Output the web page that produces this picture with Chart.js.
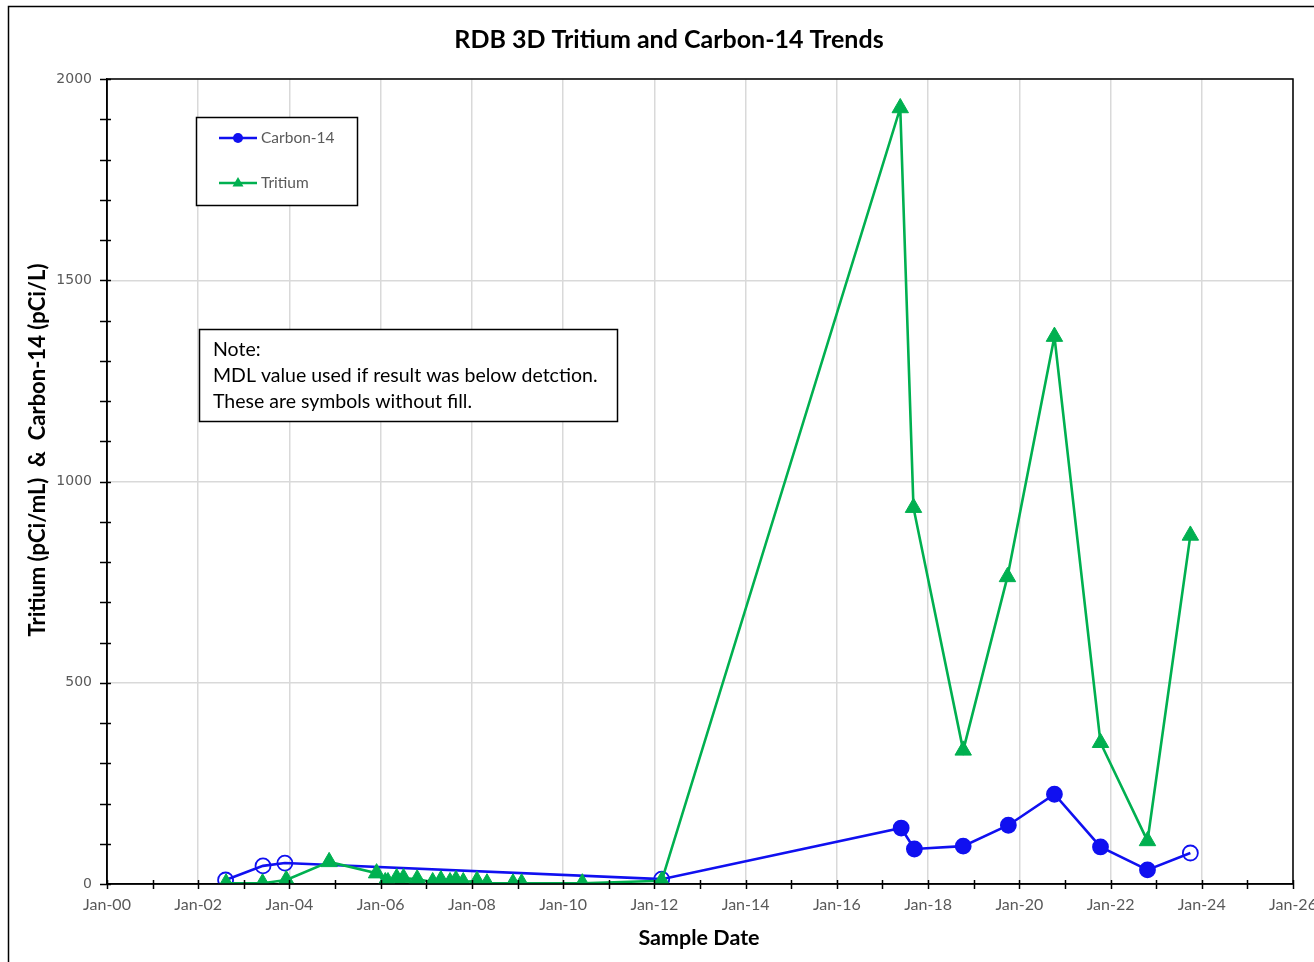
<!DOCTYPE html>
<html>
<head>
<meta charset="utf-8">
<title>RDB 3D Tritium and Carbon-14 Trends</title>
<script src="https://cdn.jsdelivr.net/npm/chart.js@4.4.1/dist/chart.umd.min.js"></script>
<style>
  html, body { margin: 0; padding: 0; background: #fff; }
  canvas { display: block; }
</style>
</head>
<body>
<canvas id="trendChart" width="1314" height="962"></canvas>
<script>
// sample dates as decimal years
const carbonDates = [2002.6, 2003.42, 2003.9, 2012.16, 2017.41, 2017.7, 2018.77, 2019.76, 2020.77, 2021.78, 2022.81, 2023.75];
const carbonValues = [10, 45, 52, 12, 139, 87, 94, 146, 223, 92, 35, 77];
// false = below detection (MDL used, open symbol)
const carbonDetected = [false, false, false, false, true, true, true, true, true, true, true, false];

const tritiumDates = [2002.61, 2003.41, 2003.93, 2004.87, 2005.91, 2006.1, 2006.16, 2006.35, 2006.5, 2006.8,
  2007.14, 2007.32, 2007.52, 2007.65, 2007.81, 2008.11, 2008.33, 2008.9, 2009.09, 2010.42,
  2012.16, 2017.39, 2017.68, 2018.77, 2019.74, 2020.77, 2021.78, 2022.81, 2023.75];
const tritiumValues = [2, 2, 10, 55, 27, 5, 5, 15, 15, 12,
  5, 10, 5, 10, 5, 8, 2, 2, 2, 2,
  8, 1928, 935, 332, 763, 1360, 351, 107, 866];

const xMin = 2000, xMax = 2026;
const yMin = 0, yMax = 2000;

const BLUE = "#1010f0";
const GREEN = "#00b050";
const GRID = "#d9d9d9";
const TICK_TEXT = "#595959";

// cross tick marks, legend, note, titles and frames
const decorPlugin = {
    id: "decor",
    afterDraw(chart) {
        const ctx = chart.ctx;
        const xs = chart.scales.x, ys = chart.scales.y;
        const area = chart.chartArea;
        ctx.save();

        // outer frame
        ctx.strokeStyle = "#000";
        ctx.lineWidth = 1.5;
        ctx.beginPath();
        ctx.moveTo(8.5, 970);
        ctx.lineTo(8.5, 6.5);
        ctx.lineTo(1320, 6.5);
        ctx.stroke();

        // plot area frame
        ctx.strokeRect(area.left, area.top, area.right - area.left, area.bottom - area.top);

        // tick marks across axes
        xs.ticks.forEach(t => {
            const px = Math.round(xs.getPixelForValue(t.value)) + 0.5;
            ctx.beginPath();
            ctx.moveTo(px, area.bottom - 4);
            ctx.lineTo(px, area.bottom + 5);
            ctx.stroke();
        });
        ys.ticks.forEach(t => {
            const py = Math.round(ys.getPixelForValue(t.value)) + 0.5;
            ctx.beginPath();
            ctx.moveTo(area.left - 7, py);
            ctx.lineTo(area.left + 4, py);
            ctx.stroke();
        });

        // chart title
        ctx.fillStyle = "#000";
        ctx.textAlign = "center";
        ctx.textBaseline = "middle";
        ctx.font = "bold 25px Lato";
        ctx.fillText("RDB 3D Tritium and Carbon-14 Trends", 669, 40);

        // axis titles
        ctx.font = "bold 21.5px Lato";
        ctx.fillText("Sample Date", 699, 938);
        ctx.save();
        ctx.translate(38, 450);
        ctx.rotate(-Math.PI / 2);
        ctx.font = "bold 22px Lato";
        ctx.fillText("Tritium (pCi/mL)  &  Carbon-14 (pCi/L)", 0, 0);
        ctx.restore();

        // legend box
        ctx.fillStyle = "#fff";
        ctx.fillRect(196, 117, 162, 88);
        ctx.strokeStyle = "#000";
        ctx.lineWidth = 1.5;
        ctx.strokeRect(196.5, 117.5, 161, 88);

        ctx.lineWidth = 2.5;
        ctx.strokeStyle = BLUE;
        ctx.beginPath(); ctx.moveTo(219, 138); ctx.lineTo(257, 138); ctx.stroke();
        ctx.fillStyle = BLUE;
        ctx.beginPath(); ctx.arc(238, 138, 5, 0, Math.PI * 2); ctx.fill();

        ctx.strokeStyle = GREEN;
        ctx.beginPath(); ctx.moveTo(219, 183); ctx.lineTo(257, 183); ctx.stroke();
        ctx.fillStyle = GREEN;
        ctx.beginPath();
        ctx.moveTo(238, 177); ctx.lineTo(243.5, 186.5); ctx.lineTo(232.5, 186.5);
        ctx.closePath(); ctx.fill();

        ctx.fillStyle = TICK_TEXT;
        ctx.textAlign = "left";
        ctx.font = "15.5px Lato";
        ctx.fillText("Carbon-14", 261, 138);
        ctx.fillText("Tritium", 261, 183);

        // note box
        ctx.fillStyle = "#fff";
        ctx.fillRect(199, 329, 418, 92);
        ctx.strokeStyle = "#000";
        ctx.lineWidth = 1.5;
        ctx.strokeRect(199.5, 329.5, 418, 92);
        ctx.fillStyle = "#000";
        ctx.font = "19.5px Lato";
        ctx.fillText("Note:", 213, 350);
        ctx.fillText("MDL value used if result was below detction.", 213, 376);
        ctx.fillText("These are symbols without fill.", 213, 402);

        ctx.restore();
    }
};

const tritiumPoints = tritiumDates.map((d, i) => ({ x: d, y: tritiumValues[i] }));
const carbonPoints = carbonDates.map((d, i) => ({ x: d, y: carbonValues[i] }));

new Chart(document.getElementById("trendChart"), {
    type: "line",
    data: {
        datasets: [{
            label: "Tritium",
            data: tritiumPoints,
            order: 0,
            borderColor: GREEN,
            backgroundColor: GREEN,
            borderWidth: 2.6,
            pointStyle: "triangle",
            pointRadius: 9.5,
            pointBorderWidth: 1,
            pointBorderColor: GREEN,
            tension: 0
        }, {
            label: "Carbon-14",
            data: carbonPoints,
            order: 1,
            borderColor: BLUE,
            borderWidth: 2.6,
            pointStyle: "circle",
            pointRadius: 7.5,
            pointBorderWidth: 1.8,
            pointBorderColor: BLUE,
            pointBackgroundColor: carbonDetected.map(d => d ? BLUE : "rgba(255,255,255,0)"),
            tension: 0
        }]
    },
    options: {
        responsive: false,
        animation: false,
        layout: { padding: { top: 79, right: 21, left: 0, bottom: 0 } },
        plugins: {
            legend: { display: false },
            tooltip: { enabled: false }
        },
        scales: {
            x: {
                type: "linear",
                min: xMin,
                max: xMax,
                afterFit: scale => {
                    scale.height = 78;
                    scale.paddingLeft = 0;
                    scale.paddingRight = 0;
                },
                ticks: {
                    stepSize: 1,
                    autoSkip: false,
                    maxRotation: 0,
                    padding: 11,
                    color: TICK_TEXT,
                    font: { family: "Lato", size: 16 },
                    callback: v => (v % 2 === 0 ? "Jan-" + String(v).slice(2) : "")
                },
                grid: {
                    drawTicks: false,
                    lineWidth: 1.5,
                    color: c => (c.tick && c.tick.value % 2 === 0 ? GRID : "rgba(0,0,0,0)")
                },
                border: { color: "#000", width: 1.5 }
            },
            y: {
                min: yMin,
                max: yMax,
                afterFit: scale => {
                    scale.width = 107;
                    scale.paddingTop = 0;
                    scale.paddingBottom = 0;
                },
                ticks: {
                    stepSize: 100,
                    autoSkip: false,
                    padding: 15,
                    color: TICK_TEXT,
                    font: { family: "DejaVu Sans", size: 14 },
                    callback: v => (v % 500 === 0 ? String(v) : "")
                },
                grid: {
                    drawTicks: false,
                    lineWidth: 1.5,
                    color: c => (c.tick && c.tick.value % 500 === 0 && c.tick.value > 0 ? GRID : "rgba(0,0,0,0)")
                },
                border: { color: "#000", width: 1.5 }
            }
        }
    },
    plugins: [decorPlugin]
});
</script>
</body>
</html>
